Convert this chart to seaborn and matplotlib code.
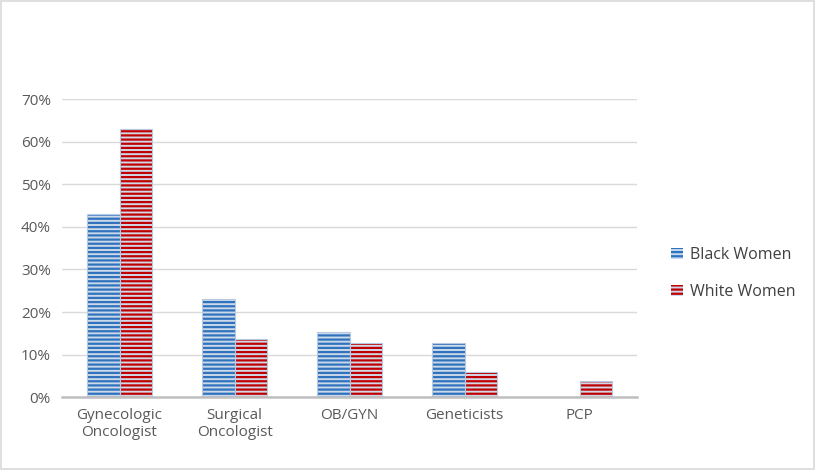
import pandas as pd
import matplotlib.pyplot as plt
import matplotlib.patches as mpatches
from matplotlib.colors import to_rgba
import seaborn as sns

# values (percent)
specialties = ["Gynecologic\nOncologist", "Surgical\nOncologist", "OB/GYN", "Geneticists", "PCP"]
black_women = [43.0, 23.0, 15.3, 12.7, 0.0]
white_women = [63.0, 13.7, 12.8, 5.9, 3.9]
groups = ["Black Women", "White Women"]

stripe_colors = {"Black Women": "#2f72bd", "White Women": "#c00000"}
gap_colors = {"Black Women": "#c6d9ee", "White Women": "#cdd8ec"}
outline = "#b7c8e2"

df = pd.DataFrame({
    "specialty": specialties * 2,
    "group": [groups[0]] * len(specialties) + [groups[1]] * len(specialties),
    "value": black_women + white_women,
})

sns.set_theme(style="white")
plt.rcParams["font.family"] = ["Open Sans", "DejaVu Sans"]
plt.rcParams["hatch.linewidth"] = 1.6

fig = plt.figure(figsize=(8.16, 4.70), dpi=100)
ax = fig.add_axes([0.076, 0.155, 0.705, 0.634])

sns.barplot(data=df, x="specialty", y="value", hue="group", hue_order=groups,
            palette=gap_colors, width=0.56, gap=0, ax=ax, legend=False,
            linewidth=0.8, errorbar=None)

# horizontal stripe fill
n = len(specialties)
for i, p in enumerate(ax.patches):
    g = groups[i // n]
    p.set_hatch("----")
    p.set_edgecolor(outline)
    p._hatch_color = to_rgba(stripe_colors[g])

ax.set_ylim(0, 70)
ax.set_xlim(-0.5, n - 0.5)
ax.set_yticks(range(0, 71, 10))
ax.set_yticklabels([f"{v}%" for v in range(0, 71, 10)])
ax.yaxis.grid(True, color="#d9d9d9", linewidth=1)
ax.set_axisbelow(True)
ax.set_xlabel("")
ax.set_ylabel("")
for s in ["top", "right", "left"]:
    ax.spines[s].set_visible(False)
ax.spines["bottom"].set_color("#bfbfbf")
ax.spines["bottom"].set_linewidth(1.8)
ax.tick_params(axis="both", length=0, labelsize=11, colors="#595959", pad=8)

handles = [mpatches.Patch(facecolor=gap_colors[g], edgecolor=stripe_colors[g],
                          hatch="----", linewidth=0, label=g) for g in groups]
fig.legend(handles=handles, loc="center left", bbox_to_anchor=(0.805, 0.418),
           frameon=False, fontsize=11.5, handlelength=0.75, handleheight=0.75,
           handletextpad=0.4, labelspacing=1.3, labelcolor="#404040")

# light frame round the whole chart
fig.patches.append(mpatches.Rectangle((0.001, 0.002), 0.997, 0.996, transform=fig.transFigure,
                                      fill=False, edgecolor="#d9d9d9", linewidth=1.2))

fig.savefig("out.png", dpi=100)
plt.close(fig)
